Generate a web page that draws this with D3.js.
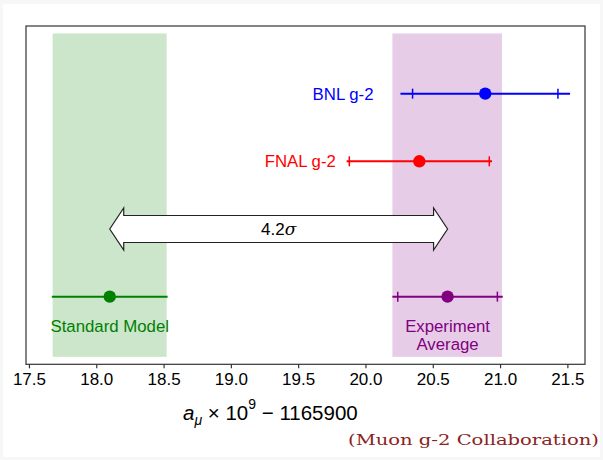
<!DOCTYPE html>
<html>
<head>
<meta charset="utf-8">
<script src="https://cdn.jsdelivr.net/npm/d3@7/dist/d3.min.js"></script>
<style>
  html, body { margin: 0; padding: 0; background: #f7f7f7; }
  svg { display: block; }
</style>
</head>
<body>
<svg id="chart" width="603" height="460"></svg>
<script>
// ---- data ----
const names      = ["BNL g-2", "FNAL g-2", "Standard Model", "Experiment Average"];
const centers    = [20.89, 20.40, 18.10, 20.61];
const totalErrs  = [0.63, 0.54, 0.43, 0.41];
const capErrs    = [0.54, 0.52, null, 0.37];
const rows       = [4, 3, 1, 1];
const colors     = ["#0000ff", "#ff0000", "#008000", "#800080"];
const labelX     = [20.06, 19.78, 18.10, 20.61];
const labelLines = [["BNL g-2"], ["FNAL g-2"], ["Standard Model"], ["Experiment", "Average"]];
const labelSide  = ["left", "left", "below", "below"];

const bandNames  = ["Standard Model", "Experiment Average"];
const bandLo     = [17.676, 20.20];
const bandHi     = [18.523, 21.014];
const bandColors = ["#008000", "#800080"];
const bandRows   = [0.11, 4.89];

const arrowFrom  = 18.10;
const arrowTo    = 20.61;
const arrowRow   = 2;
const arrowLabel = "4.2";

const xTicks     = [17.5, 18.0, 18.5, 19.0, 19.5, 20.0, 20.5, 21.0, 21.5];
const xDomain    = [17.478, 21.631];
const yDomain    = [0, 5];

// ---- layout ----
const svg = d3.select("#chart");
const W = 603, H = 460;
const plot = { left: 26, right: 585, top: 26, bottom: 364.3 };

svg.append("rect").attr("x", 0).attr("y", 0).attr("width", W).attr("height", H).attr("fill", "#f7f7f7");
svg.append("rect").attr("x", 3).attr("y", 4).attr("width", 597).attr("height", 453).attr("fill", "#ffffff");

const x = d3.scaleLinear().domain(xDomain).range([plot.left, plot.right]);
const y = d3.scaleLinear().domain(yDomain).range([plot.bottom, plot.top]);

const g = svg.append("g");

// bands
bandNames.forEach((n, i) => {
  g.append("rect")
    .attr("x", x(bandLo[i]))
    .attr("width", x(bandHi[i]) - x(bandLo[i]))
    .attr("y", y(bandRows[1]))
    .attr("height", y(bandRows[0]) - y(bandRows[1]))
    .attr("fill", bandColors[i])
    .attr("fill-opacity", 0.2);
});

// arrow (double, hollow)
{
  const yc = y(arrowRow);
  const x0 = x(arrowFrom), x1 = x(arrowTo);
  const headL = 14, shaftH = 13.5, headH = 21;
  const pts = [
    [x0, yc],
    [x0 + headL, yc - headH],
    [x0 + headL, yc - shaftH],
    [x1 - headL, yc - shaftH],
    [x1 - headL, yc - headH],
    [x1, yc],
    [x1 - headL, yc + headH],
    [x1 - headL, yc + shaftH],
    [x0 + headL, yc + shaftH],
    [x0 + headL, yc + headH]
  ];
  g.append("path")
    .attr("d", d3.line()(pts) + "Z")
    .attr("fill", "#ffffff")
    .attr("stroke", "#222")
    .attr("stroke-width", 1.2)
    .attr("stroke-linejoin", "miter");
  const t = g.append("text")
    .attr("x", (x0 + x1) / 2)
    .attr("y", yc + 6)
    .attr("text-anchor", "middle")
    .attr("font-family", "Liberation Sans, Arial, sans-serif")
    .attr("font-size", 17)
    .attr("fill", "#000");
  t.append("tspan").text(arrowLabel);
  t.append("tspan").attr("font-family", "DejaVu Serif, serif").attr("font-style", "italic").text("σ");
}

// error bars
names.forEach((n, i) => {
  const yc = y(rows[i]);
  const c = colors[i];
  g.append("line")
    .attr("x1", x(centers[i] - totalErrs[i])).attr("x2", x(centers[i] + totalErrs[i]))
    .attr("y1", yc).attr("y2", yc)
    .attr("stroke", c).attr("stroke-width", 2);
  if (capErrs[i] !== null) {
    [centers[i] - capErrs[i], centers[i] + capErrs[i]].forEach(v => {
      g.append("line")
        .attr("x1", x(v)).attr("x2", x(v))
        .attr("y1", yc - 5).attr("y2", yc + 5)
        .attr("stroke", c).attr("stroke-width", 1.5);
    });
  }
  g.append("circle")
    .attr("cx", x(centers[i])).attr("cy", yc).attr("r", 6.2)
    .attr("fill", c);

  const lines = labelLines[i];
  const txt = g.append("text")
    .attr("font-family", "Liberation Sans, Arial, sans-serif")
    .attr("font-size", 16.8)
    .attr("fill", c);
  if (labelSide[i] === "left") {
    txt.attr("text-anchor", "end").attr("x", x(labelX[i])).attr("y", yc + 6).text(lines[0]);
  } else {
    txt.attr("text-anchor", "middle");
    lines.forEach((ln, k) => {
      txt.append("tspan").attr("x", x(labelX[i])).attr("y", yc + 35 + k * 18).text(ln);
    });
  }
});

// frame
g.append("rect")
  .attr("x", plot.left).attr("y", plot.top)
  .attr("width", plot.right - plot.left).attr("height", plot.bottom - plot.top)
  .attr("fill", "none").attr("stroke", "#333").attr("stroke-width", 1.2);

// x axis
const axis = d3.axisBottom(x).tickValues(xTicks).tickFormat(d3.format(".1f")).tickSize(4).tickPadding(5);
const ax = svg.append("g").attr("transform", `translate(0,${plot.bottom})`).call(axis);
ax.select(".domain").remove();
ax.selectAll(".tick line").attr("stroke", "#333").attr("stroke-width", 1.2);
ax.selectAll(".tick text")
  .attr("font-family", "Liberation Sans, Arial, sans-serif")
  .attr("font-size", 17)
  .attr("fill", "#000");

// axis title
{
  const t = svg.append("text")
    .attr("x", 183).attr("y", 420)
    .attr("font-family", "Liberation Sans, Arial, sans-serif")
    .attr("font-size", 20.5)
    .attr("fill", "#000");
  t.append("tspan").attr("font-style", "italic").text("a");
  t.append("tspan").attr("font-style", "italic").attr("font-size", 14).attr("dy", 5).text("μ");
  t.append("tspan").attr("dy", -5).text(" × 10");
  t.append("tspan").attr("font-size", 14).attr("dy", -11).text("9");
  t.append("tspan").attr("dy", 11).text(" − 1165900");
}

// credit
svg.append("text")
  .attr("x", 599).attr("y", 445)
  .attr("text-anchor", "end")
  .attr("font-family", "DejaVu Serif, Liberation Serif, serif")
  .attr("font-size", 14.5)
  .attr("fill", "#8b2323")
  .attr("textLength", 251)
  .attr("lengthAdjust", "spacingAndGlyphs")
  .text("(Muon g-2 Collaboration)");
</script>
</body>
</html>
